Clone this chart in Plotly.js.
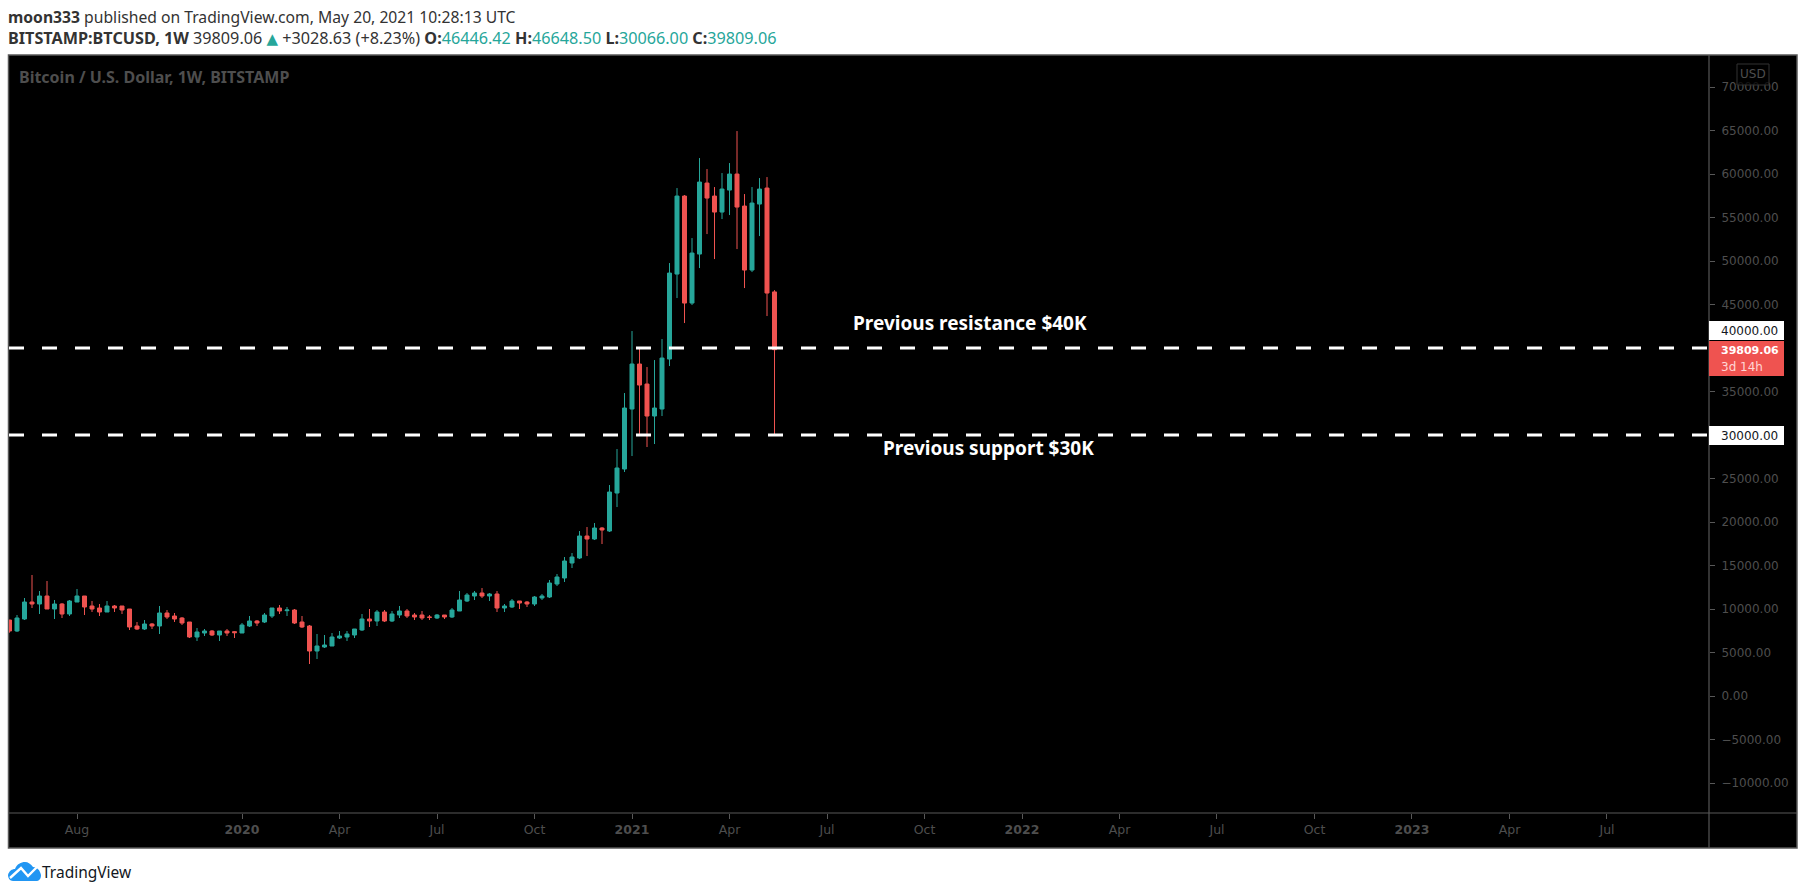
<!DOCTYPE html>
<html>
<head>
<meta charset="utf-8">
<script src="https://cdn.plot.ly/plotly-3.0.1.min.js"></script>
<style>
html,body{margin:0;padding:0;background:#fff;overflow:hidden}
#chart{width:1805px;height:895px;position:absolute;left:0;top:0}
#logo{position:absolute;left:8px;top:861px}
</style>
</head>
<body>
<div id="chart"></div>
<svg id="logo" width="33" height="21" viewBox="0 0 33 21"><path fill="#2196f3" d="M0 14C1 10 4 8 7 8 9 3 13 1 17 1c3 0 6 2 8 5 4 0 7 3 8 8 0 4-2 6-5 6H5c-3 0-5-3-5-6z"/><path fill="none" stroke="#fff" stroke-width="2.4" d="M2 17 13 7 20 15 31 4"/></svg>
<script>
var dates = ['2019-06-03','2019-06-10','2019-06-17','2019-06-24','2019-07-01','2019-07-08','2019-07-15','2019-07-22','2019-07-29','2019-08-05','2019-08-12','2019-08-19','2019-08-26','2019-09-02','2019-09-09','2019-09-16','2019-09-23','2019-09-30','2019-10-07','2019-10-14','2019-10-21','2019-10-28','2019-11-04','2019-11-11','2019-11-18','2019-11-25','2019-12-02','2019-12-09','2019-12-16','2019-12-23','2019-12-30','2020-01-06','2020-01-13','2020-01-20','2020-01-27','2020-02-03','2020-02-10','2020-02-17','2020-02-24','2020-03-02','2020-03-09','2020-03-16','2020-03-23','2020-03-30','2020-04-06','2020-04-13','2020-04-20','2020-04-27','2020-05-04','2020-05-11','2020-05-18','2020-05-25','2020-06-01','2020-06-08','2020-06-15','2020-06-22','2020-06-29','2020-07-06','2020-07-13','2020-07-20','2020-07-27','2020-08-03','2020-08-10','2020-08-17','2020-08-24','2020-08-31','2020-09-07','2020-09-14','2020-09-21','2020-09-28','2020-10-05','2020-10-12','2020-10-19','2020-10-26','2020-11-02','2020-11-09','2020-11-16','2020-11-23','2020-11-30','2020-12-07','2020-12-14','2020-12-21','2020-12-28','2021-01-04','2021-01-11','2021-01-18','2021-01-25','2021-02-01','2021-02-08','2021-02-15','2021-02-22','2021-03-01','2021-03-08','2021-03-15','2021-03-22','2021-03-29','2021-04-05','2021-04-12','2021-04-19','2021-04-26','2021-05-03','2021-05-10','2021-05-17'];
var opens = [8735,7470,8850,10803,10574,11493,9999,10574,9424,10803,11493,10344,10114,9654,10344,10344,9999,8045,7700,8275,8045,9539,9194,8965,8505,6781,7241,7470,7011,7470,7394,7241,8045,8620,8505,9194,10114,9807,9884,8505,8045,5172,5632,5747,6666,6781,7011,7585,8850,8620,9654,8620,9309,9769,9309,9309,9079,8965,9309,9079,9769,10918,11493,11838,11493,11723,10114,10229,10918,10803,10574,11263,11378,12872,13562,15286,15860,18389,18044,19308,18963,23331,26089,32985,38157,35858,32180,32985,38731,48500,57465,45167,50799,58959,57465,55626,58155,59993,56316,48960,56546,58384,46446.42];
var highs = [8735,9309,11263,13907,12068,13217,11033,10688,11033,12298,11493,10918,10574,10918,10459,10344,9999,8505,8735,8390,10344,9884,9539,9079,8505,7815,7700,7585,7470,7700,7470,8390,9194,8735,9539,10114,10459,10229,9999,9194,8160,7126,7011,7241,7470,7470,7700,9424,9999,9884,9884,9769,10344,9999,9539,9769,9309,9424,9309,10114,12068,11838,12068,12412,11838,12068,10574,11148,10918,10918,11493,11723,13332,14021,15975,16435,18963,19423,19883,19423,24250,28388,34824,41949,39900,37812,38616,41030,49765,58384,57580,52638,61832,60568,58499,60108,61258,64935,57695,58499,59534,59649,46648.50];
var lows = [7280,7356,8735,10114,9424,9999,8850,8965,9194,10803,9309,9654,9194,9654,9654,9424,7585,7585,7585,7700,7126,8850,8505,8160,6666,6321,6896,6896,6321,6896,6666,7241,7930,8045,8390,8965,9424,9194,8275,7815,3678,4252,5517,5747,6551,6321,6666,7470,7930,8045,8505,8505,8965,8965,8735,8735,8735,8850,8850,8965,9769,10803,11033,11263,10918,9654,9654,10114,9999,10229,10344,11033,11263,12642,13102,14711,15745,16090,17929,17469,18849,21722,25744,27583,30000,28618,28962,32180,37927,45742,42869,44938,49190,53098,50224,54822,55281,51374,46891,48730,52868,43673,30066.00];
var closes = [7470,8965,10803,10574,11493,9999,10574,9424,10918,11493,10229,9999,9654,10344,10114,9884,7930,7700,8275,8045,9539,9079,8850,8390,6781,7356,7470,7011,7470,7241,7279,8160,8620,8390,9309,10114,9769,9884,8390,7930,5172,5747,5861,6781,6896,7126,7700,8850,8620,9654,8620,9424,9769,9194,9079,8965,9040,9309,9079,9884,11033,11608,11838,11493,11723,10114,10344,10918,10688,10574,11378,11493,12987,13677,15516,15975,18389,18044,19308,19078,23446,26204,33100,38157,35743,32180,33100,38846,48615,57465,45167,50914,59074,57235,55626,58270,59993,56201,48960,56660,58270,46317,39809.06];

var levelDates = ['2019-06-02 12:45','2023-10-06 05:00'];
var resistance = [40000,40000];
var support = [30000,30000];

var timeTickDates = ['2019-08-05','2020-01-06','2020-04-06','2020-07-06','2020-10-05','2021-01-04','2021-04-05','2021-07-05','2021-10-04','2022-01-03','2022-04-04','2022-07-04','2022-10-03','2023-01-02','2023-04-03','2023-07-03'];
var timeTickLabels = ['Aug','<b>2020</b>','Apr','Jul','Oct','<b>2021</b>','Apr','Jul','Oct','<b>2022</b>','Apr','Jul','Oct','<b>2023</b>','Apr','Jul'];
var priceTicks = [70000,65000,60000,55000,50000,45000,35000,25000,20000,15000,10000,5000,0,-5000,-10000];

var TEAL='#26a69a', RED='#ef5350', GREY='#4e4e4e', FRAME='#585858';
var AXIS_FONT='"DejaVu Sans"', HEAD_FONT='"Noto Sans"';
function px(x){return (x-9)/1700;}
function py(y){return (813-y)/758;}
function note(x,y,text,size,color,anchor,font){
  return {xref:'paper',yref:'paper',x:px(x),y:py(y),text:text,showarrow:false,xanchor:anchor||'left',yanchor:'middle',
          align:'left',font:{family:font||HEAD_FONT,size:size,color:color},borderpad:0,borderwidth:0};
}
function rect(x0,y0,x1,y1,fill,line,layer){
  return {type:'rect',xref:'paper',yref:'paper',x0:px(x0),x1:px(x1),y0:py(y1),y1:py(y0),
          fillcolor:fill,line:{color:line||fill,width:line?1.5:0},layer:layer||'above'};
}
function seg(x0,y0,x1,y1){
  return {type:'line',xref:'paper',yref:'paper',x0:px(x0),x1:px(x1),y0:py(y0),y1:py(y1),line:{color:FRAME,width:1.2},layer:'above'};
}
function val(c,t){return '<span style="color:'+c+'">'+t+'</span>';}
var TRI='<span style="color:'+TEAL+';font-family:DejaVu Sans;font-size:15px">▲</span>';

var traces = [
 {type:'candlestick',x:dates,open:opens,high:highs,low:lows,close:closes,whiskerwidth:0,
  increasing:{line:{color:TEAL,width:1},fillcolor:TEAL},
  decreasing:{line:{color:RED,width:1},fillcolor:RED},hoverinfo:'skip'},
 {type:'scatter',mode:'lines',x:levelDates,y:resistance,line:{color:'#ffffff',width:3,dash:'15px,18px'},hoverinfo:'skip'},
 {type:'scatter',mode:'lines',x:levelDates,y:support,line:{color:'#ffffff',width:3,dash:'15px,18px'},hoverinfo:'skip'}
];

var layout = {
 width:1805,height:895,showlegend:false,
 margin:{l:9,r:96,t:55,b:82,pad:0},
 paper_bgcolor:'#ffffff',plot_bgcolor:'#000000',
 boxgap:0.24,
 xaxis:{type:'date',range:levelDates,rangeslider:{visible:false},showgrid:false,zeroline:false,showline:false,
        tickmode:'array',tickvals:timeTickDates,ticktext:timeTickLabels,ticks:'outside',ticklen:5,tickwidth:1,tickcolor:FRAME,
        tickangle:0,tickfont:{family:AXIS_FONT,size:12.5,color:GREY}},
 yaxis:{side:'right',range:[-13448,73678],showgrid:false,zeroline:false,showline:false,
        tickmode:'array',tickvals:priceTicks,tickformat:'.2f',ticks:'outside',ticklen:5,tickwidth:1,tickcolor:FRAME,ticklabelstandoff:4,
        tickfont:{family:AXIS_FONT,size:12,color:GREY}},
 shapes:[
  rect(8.5,55,1797,848,'#000000',FRAME,'below'),
  seg(8.5,813,1797,813),
  seg(1709,55,1709,848),
  rect(1709,321,1784,340,'#ffffff'),
  rect(1709,341,1784,376,RED),
  rect(1709,426,1784,445,'#ffffff'),
  {type:'rect',xref:'paper',yref:'paper',x0:px(1737),x1:px(1769),y0:py(85),y1:py(64),fillcolor:'rgba(0,0,0,0.75)',line:{color:'#333333',width:1},layer:'above'}
 ],
 annotations:[
  note(8,17,'<b>moon333</b> published on TradingView.com, May 20, 2021 10:28:13 UTC',15.7,'#333333'),
  note(8,38,'<b>BITSTAMP:BTCUSD, 1W</b> 39809.06 '+TRI+' +3028.63 (+8.23%) <b>O:</b>'+val(TEAL,'46446.42')+' <b>H:</b>'+val(TEAL,'46648.50')+' <b>L:</b>'+val(TEAL,'30066.00')+' <b>C:</b>'+val(TEAL,'39809.06'),16.2,'#333333'),
  note(19,77,'<b>Bitcoin / U.S. Dollar, 1W, BITSTAMP</b>',16,GREY),
  note(853,323,'<b>Previous resistance $40K</b>',19,'#ffffff'),
  note(883,448,'<b>Previous support $30K</b>',19,'#ffffff'),
  note(1721,331,'40000.00',12,'#131722','left',AXIS_FONT),
  note(1721,350,'<b>39809.06</b>',11,'#ffffff','left',AXIS_FONT),
  note(1721,367,'3d 14h',12,'#ffd6d5','left',AXIS_FONT),
  note(1721,436,'30000.00',12,'#131722','left',AXIS_FONT),
  note(1753,74,'USD',12,GREY,'center',AXIS_FONT),
  note(42,872,'TradingView',15.5,'#131722')
 ]
};
Plotly.newPlot('chart',traces,layout,{displayModeBar:false,staticPlot:true});
</script>
</body>
</html>
